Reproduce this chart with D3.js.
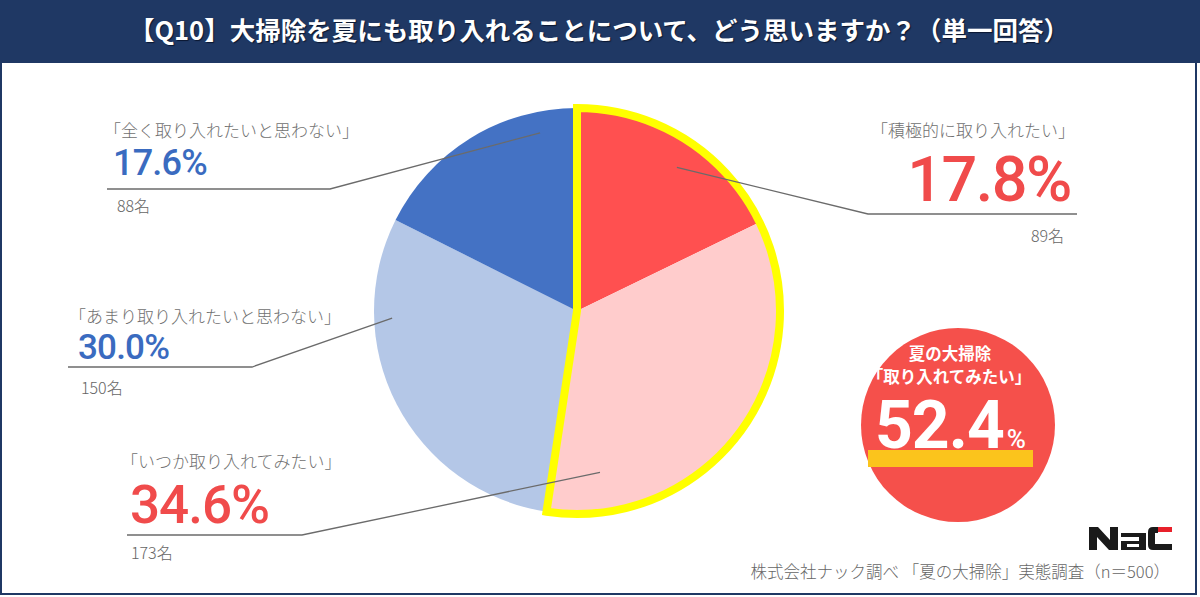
<!DOCTYPE html>
<html><head><meta charset="utf-8">
<script src="https://cdn.jsdelivr.net/npm/d3@7"></script>
<style>
html,body{margin:0;padding:0;background:#fff;}
svg{display:block;}
</style>
</head><body>
<svg id="chart" width="1200" height="597"></svg>
<script>
// ---- data ----
const title = "【Q10】大掃除を夏にも取り入れることについて、どう思いますか？（単一回答）";
const categories = ["「積極的に取り入れたい」", "「いつか取り入れてみたい」", "「あまり取り入れたいと思わない」", "「全く取り入れたいと思わない」"];
const values = [17.8, 34.6, 30.0, 17.6];
const counts = ["89名", "173名", "150名", "88名"];
const highlightLines = ["夏の大掃除", "「取り入れてみたい」"];
const highlightValue = "52.4";
const footer = "株式会社ナック調べ 「夏の大掃除」実態調査（n＝500）";

// ---- layout / styles ----
const sliceColors = ["#ff5050", "#ffcccc", "#b4c7e7", "#4472c4"];
const textColors = ["#f04b4b", "#f04b4b", "#3a6bc0", "#3a6bc0"];
const labelLayout = [
  {aDeg: 34.8, aR: 175, elbow: [868, 214], end: [1077, 214], tx: 1075, anchor: "end", labelY: 137, pctY: 201, pctSize: 63, ls: -1.5, cntX: 1064, cntY: 242},
  {aDeg: 171.9, aR: 163, elbow: [302, 535], end: [127, 535], tx: 121, anchor: "start", labelY: 468, pctY: 523, pctSize: 53, ls: -1, cntX: 131, cntY: 559},
  {aDeg: 267.8, aR: 185, elbow: [252, 367], end: [68, 367], tx: 69, anchor: "start", labelY: 323, pctY: 359, pctSize: 35, ls: -0.8, cntX: 81, cntY: 394},
  {aDeg: 348.3, aR: 182, elbow: [330, 189], end: [107, 189], tx: 104, anchor: "start", labelY: 137, pctY: 175, pctSize: 36, ls: -0.8, cntX: 117, cntY: 212}
];

const W = 1200, H = 597;
const svg = d3.select("#chart");
const jp = "'Noto Sans CJK JP','Noto Sans',sans-serif";

svg.append("rect").attr("width", W).attr("height", H).attr("fill", "#fff");

// title bar
svg.append("rect").attr("x", 0).attr("y", 0).attr("width", W).attr("height", 63).attr("fill", "#1f3864");
svg.append("text").attr("x", 599).attr("y", 40).attr("text-anchor", "middle")
  .attr("font-family", jp).attr("font-weight", 700).attr("font-size", 25.5)
  .attr("fill", "#fff").style("text-shadow", "1px 1px 1px #0b1730").text(title);

// pie
const cx = 577, cy = 311, R = 203;
const g = svg.append("g").attr("transform", `translate(${cx},${cy})`);
const pie = d3.pie().sort(null).value(d => d);
const arcs = pie(values);
const arc = d3.arc().innerRadius(0).outerRadius(R);
g.selectAll("path.slice").data(arcs).join("path").attr("class", "slice")
  .attr("d", arc).attr("fill", (d, i) => sliceColors[i]);

const hiEnd = arcs[1].endAngle;
g.append("path")
  .attr("d", d3.arc()({innerRadius: 0, outerRadius: R, startAngle: 0, endAngle: hiEnd}))
  .attr("fill", "none").attr("stroke", "#ffff00").attr("stroke-width", 8).attr("stroke-linejoin", "miter");

// leader lines and labels
labelLayout.forEach((L, i) => {
  const a = L.aDeg * Math.PI / 180;
  const ax = cx + L.aR * Math.sin(a), ay = cy - L.aR * Math.cos(a);
  svg.append("path")
    .attr("d", d3.line()([[ax, ay], L.elbow, L.end]))
    .attr("fill", "none").attr("stroke", "#6b6b6b").attr("stroke-width", 1.3);
  svg.append("text").attr("x", L.tx).attr("y", L.labelY).attr("text-anchor", L.anchor)
    .attr("font-family", jp).attr("font-weight", 300).attr("font-size", 17).attr("fill", "#707070")
    .text(categories[i]);
  const px = L.anchor === "end" ? 1071 : L.tx + 9;
  svg.append("text").attr("x", px).attr("y", L.pctY).attr("text-anchor", L.anchor)
    .attr("font-family", "Roboto,'Noto Sans',sans-serif").attr("font-weight", 500)
    .attr("font-size", L.pctSize).attr("letter-spacing", L.ls).attr("fill", textColors[i])
    .text(d3.format(".1f")(values[i]) + "%");
  svg.append("text").attr("x", L.cntX).attr("y", L.cntY).attr("text-anchor", L.anchor)
    .attr("font-family", jp).attr("font-weight", 300).attr("font-size", 16).attr("fill", "#666")
    .text(counts[i]);
});

// highlight badge
const bx = 958, by = 425;
svg.append("circle").attr("cx", bx).attr("cy", by).attr("r", 97).attr("fill", "#f5504b");
svg.append("text").attr("x", 950).attr("y", 360).attr("text-anchor", "middle")
  .attr("font-family", jp).attr("font-weight", 700).attr("font-size", 16.5).attr("fill", "#fff").text(highlightLines[0]);
svg.append("text").attr("x", 949).attr("y", 383).attr("text-anchor", "middle")
  .attr("font-family", jp).attr("font-weight", 700).attr("font-size", 16.5).attr("fill", "#fff").text(highlightLines[1]);
svg.append("rect").attr("x", 868).attr("y", 450).attr("width", 165).attr("height", 17).attr("fill", "#fbc41c");
const big = svg.append("text").attr("x", 875).attr("y", 448)
  .attr("font-family", "Roboto,'Noto Sans',sans-serif").attr("font-weight", 700).attr("fill", "#fff");
big.append("tspan").attr("font-size", 66).attr("letter-spacing", -1).text(highlightValue);
big.append("tspan").attr("font-size", 26).attr("font-weight", 500).attr("dx", 3).text("%");

// logo "Nac"
const logo = svg.append("g").attr("fill", "#1a1a1a");
logo.append("path").attr("d", "M1089,550 V527 H1098 L1110,540 V527 H1118 V550 H1109 L1097,537 V550 Z");
logo.append("path").attr("d", "M1121,533 H1146 V550 H1121 V541 H1139 V537 H1121 Z M1127,544 V547 H1139 V544 Z").attr("fill-rule", "evenodd");
logo.append("path").attr("d", "M1172,550 H1153 Q1148,550 1148,545 V532 Q1148,527 1153,527 H1158 V533 H1155 V544 H1172 Z");
svg.append("rect").attr("x", 1158).attr("y", 527).attr("width", 14).attr("height", 5).attr("fill", "#e8202a");

// footer
svg.append("text").attr("x", 1170).attr("y", 578).attr("text-anchor", "end")
  .attr("font-family", jp).attr("font-weight", 300).attr("font-size", 16.5).attr("fill", "#666").text(footer);

// frame
svg.append("rect").attr("x", 1).attr("y", 1).attr("width", 1195).attr("height", 593)
  .attr("fill", "none").attr("stroke", "#1f3864").attr("stroke-width", 2);
</script>
</body></html>
